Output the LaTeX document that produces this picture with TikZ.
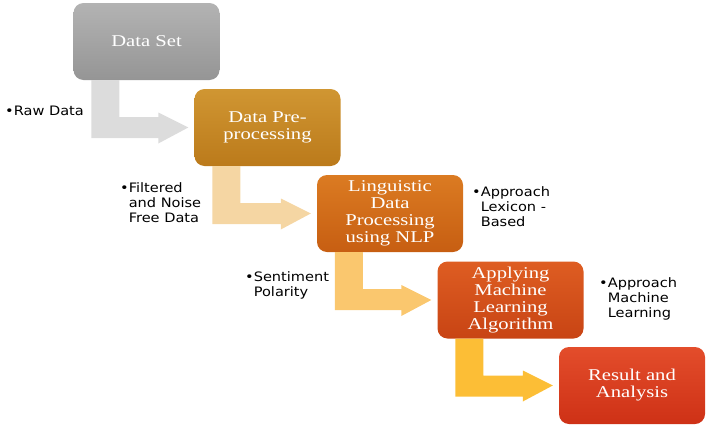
\documentclass[tikz,border=0pt]{standalone}
\usepackage{fontspec}
\usetikzlibrary{calc}
\newfontfamily\boxfont[FakeStretch=1.25]{Liberation Serif}
\newfontfamily\notefont[FakeStretch=1.12]{DejaVu Sans}
\definecolor{grayA}{HTML}{B3B3B3}
\definecolor{grayB}{HTML}{959595}
\definecolor{goldA}{HTML}{D09632}
\definecolor{goldB}{HTML}{BB7A1B}
\definecolor{orangeA}{HTML}{DB7B22}
\definecolor{orangeB}{HTML}{C75E12}
\definecolor{redorA}{HTML}{DE5D22}
\definecolor{redorB}{HTML}{C84414}
\definecolor{redA}{HTML}{E34D2B}
\definecolor{redB}{HTML}{CE3116}
\definecolor{arrowgray}{HTML}{DCDCDC}
\definecolor{arrowpeach}{HTML}{F5D6A3}
\definecolor{arrowlight}{HTML}{FAC76E}
\definecolor{arrowyellow}{HTML}{FCBE36}
\tikzset{
  stage/.style={rounded corners=10pt, minimum width=146pt, minimum height=77pt,
    inner sep=2pt, align=center, text=white,
    font=\boxfont\fontsize{16.5}{17}\selectfont},
  note/.style={anchor=north west, inner sep=0pt, align=left,
    font=\notefont\fontsize{13}{15}\selectfont}
}
\newcommand{\bentarrow}[3]{%
  \fill[#3] let \p1=(#1.south west), \p2=(#2.west) in
    (\x1+18pt,\y1) -- (\x1+46pt,\y1) -- (\x1+46pt,\y1-37pt) --
    (\x2-36pt,\y1-37pt) -- (\x2-36pt,\y2+15pt) -- (\x2-6pt,\y2) --
    (\x2-36pt,\y2-16pt) -- (\x2-36pt,\y1-58pt) -- (\x1+18pt,\y1-58pt) -- cycle;}

\begin{document}
\begin{tikzpicture}[x=1pt,y=-1pt]
\useasboundingbox (0,0) rectangle (712,431);
\node[stage, top color=grayA, bottom color=grayB] (dataset) at (146.5,41.5) {Data Set};
\node[stage, top color=goldA, bottom color=goldB] (preproc) at (267.5,127.5) {Data Pre-\\processing};
\node[stage, top color=orangeA, bottom color=orangeB] (nlp) at (390,213.5) {Linguistic\\Data\\Processing\\using NLP};
\node[stage, top color=redorA, bottom color=redorB] (mlalgo) at (510.5,300) {Applying\\Machine\\Learning\\Algorithm};
\node[stage, top color=redA, bottom color=redB] (result) at (632,385.5) {Result and\\Analysis};
\bentarrow{dataset}{preproc}{arrowgray}
\bentarrow{preproc}{nlp}{arrowpeach}
\bentarrow{nlp}{mlalgo}{arrowlight}
\bentarrow{mlalgo}{result}{arrowyellow}
\node[note] (lbraw) at (5,106) {•Raw Data};
\node[note] (lbfilter) at (120,182) {•Filtered\\\hphantom{•}and Noise\\\hphantom{•}Free Data};
\node[note] (lblexicon) at (472,186) {•Approach\\\hphantom{•}Lexicon -\\\hphantom{•}Based};
\node[note] (lbpolarity) at (245,271) {•Sentiment\\\hphantom{•}Polarity};
\node[note] (lbmachine) at (599,277) {•Approach\\\hphantom{•}Machine\\\hphantom{•}Learning};
\end{tikzpicture}
\end{document}
